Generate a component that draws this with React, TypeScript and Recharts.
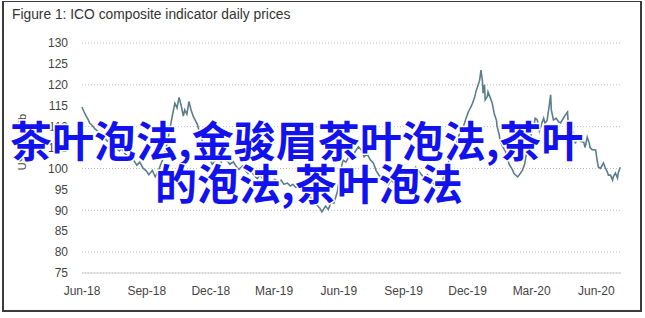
import { LineChart, Line, XAxis, YAxis, CartesianGrid } from "recharts"

// days since 1 Jun 2018
const days = [
  0, 3, 6, 9, 11, 14, 18, 23, 27, 31, 36, 40, 44, 48, 53, 57, 61, 65, 70, 74,
  78, 82, 87, 91, 95, 100, 104, 108, 112, 117, 121, 125, 128, 132, 135, 138, 141, 144, 146, 149,
  152, 155, 158, 161, 164, 168, 172, 176, 181, 185, 189, 193, 198, 202, 206, 210, 215, 219, 223, 228,
  232, 236, 240, 245, 249, 253, 257, 262, 266, 270, 274, 279, 283, 287, 292, 296, 300, 304, 309, 313,
  317, 321, 326, 330, 334, 338, 341, 346, 350, 354, 358, 363, 367, 371, 375, 380, 384, 388, 393, 397,
  401, 405, 410, 414, 418, 422, 427, 431, 435, 439, 444, 448, 452, 457, 461, 465, 469, 474, 478, 482,
  486, 491, 495, 499, 503, 508, 512, 516, 521, 525, 529, 533, 538, 542, 545, 549, 552, 555, 558, 560,
  562, 565, 567, 569, 570, 572, 573, 576, 577, 580, 583, 586, 589, 590, 593, 594, 597, 602, 604, 607,
  612, 614, 619, 621, 626, 629, 631, 634, 637, 640, 643, 644, 647, 650, 653, 656, 658, 661, 664, 666,
  667, 670, 674, 677, 680, 684, 687, 690, 691, 694, 697, 700, 701, 704, 708, 713, 715, 718, 721, 722,
  725, 730, 732, 734, 737, 741, 744, 747, 748, 751, 754, 755, 758, 761, 762, 765,
]

// US cents/lb
const prices = [
  114.7, 113.5, 112.5, 111.6, 110.8, 110.4, 109.5, 108.8, 108, 107.5, 106.5, 107, 105.5, 105, 104.2, 104.8, 103.5, 103, 102.5, 101.8,
  100.8, 101.5, 100, 99.5, 98.5, 99.5, 98, 99.2, 101, 103, 106, 109.5, 112.3, 115.6, 114.5, 117, 115, 112.5, 114, 113,
  116, 114, 112.5, 111.5, 110.5, 108, 106, 104.5, 102.5, 101, 101.8, 102.5, 101.5, 102.8, 102, 101, 101.6, 100.5, 99.8, 100.6,
  99.5, 98.8, 99.5, 98.2, 97.6, 98.4, 97.5, 98.2, 97.2, 96.7, 97.4, 96.8, 97.2, 96.2, 96.5, 95.8, 96.2, 95.5, 95.8, 94.5,
  93.8, 94.2, 92.8, 92, 91.2, 90.5, 89.6, 91, 90.2, 92, 91.7, 94.5, 99, 102, 101.5, 103, 102, 104, 105.2, 104.4,
  102.8, 103.5, 102, 101.3, 99.5, 98.4, 97.5, 96.5, 96, 97.2, 96.5, 97.5, 98, 97.5, 98.6, 99.2, 98.5, 100.3, 99.5, 98.6,
  97.8, 98.5, 97, 96.5, 95.8, 95.5, 97, 99, 101.5, 103.5, 104.4, 106.5, 109, 110, 111.6, 113.5, 114.5, 115.6, 117, 118.5,
  119.5, 121, 123.5, 121, 118, 120, 116.4, 117.2, 118.3, 117, 115.6, 113, 111.5, 110, 108, 106.8, 105.5, 104, 102.5, 101,
  99.6, 98.8, 98, 98.4, 99.6, 101, 103, 104.5, 106.8, 109.5, 111, 112, 111.6, 109, 110.5, 112, 110.8, 111.5, 115, 117.6,
  114, 111.6, 112, 111.2, 110.9, 112, 112.8, 113.5, 111, 110, 109, 108, 106, 107.3, 106.5, 106.3, 105, 107.5, 106, 105,
  104.5, 104.4, 102, 100.3, 100, 101.3, 100, 99, 98.4, 98.4, 97.2, 98, 98.9, 97.7, 98.9, 100.3,
]

const tickDays = [0, 92, 183, 273, 365, 457, 548, 639, 731]
const tickLabels = ["Jun-18", "Sep-18", "Dec-18", "Mar-19", "Jun-19", "Sep-19", "Dec-19", "Mar-20", "Jun-20"]
const yTicks = [75, 80, 85, 90, 95, 100, 105, 110, 115, 120, 125, 130]

const title = "Figure 1: ICO composite indicator daily prices"
const overlayLines = ["茶叶泡法,金骏眉茶叶泡法,茶叶", "的泡法,茶叶泡法"]

const data = days.map((d, i) => ({ day: d, price: prices[i] }))

const font = "'Liberation Sans', Arial, sans-serif"

export default function App() {
  return (
    <div style={{ position: "relative", width: 645, height: 318, background: "#fff" }}>
      <style>{`body{margin:0}`}</style>
      <div
        style={{
          position: "absolute",
          left: 2,
          top: 1,
          width: 636,
          height: 308,
          border: "2px solid #3c3c3c",
          borderTopWidth: 1,
          background: "#fff",
        }}
      />
      <div
        style={{
          position: "absolute",
          left: 12,
          top: 7,
          fontFamily: font,
          fontSize: 13.8,
          color: "#333",
        }}
      >
        {title}
      </div>
      <div style={{ position: "absolute", left: 0, top: 0 }}>
        <LineChart width={645} height={318} data={data} margin={{ top: 43, right: 24, bottom: 0, left: 22 }}>
          <CartesianGrid vertical={false} stroke="#bdbdbd" strokeDasharray="1 2" />
          <XAxis
            dataKey="day"
            type="number"
            domain={[0, 766]}
            ticks={tickDays}
            tickFormatter={(v: number) => tickLabels[tickDays.indexOf(v)]}
            height={45}
            tickLine={false}
            tickSize={0}
            tickMargin={13}
            stroke="#cfcfcf"
            tick={{ fill: "#444", fontSize: 12, fontFamily: font }}
          />
          <YAxis
            domain={[75, 130]}
            ticks={yTicks}
            width={60}
            axisLine={false}
            tickLine={false}
            tickSize={0}
            tickMargin={14}
            tick={{ fill: "#444", fontSize: 12, fontFamily: font }}
            label={{
              content: () => (
                <text
                  x={26}
                  y={142}
                  transform="rotate(-90 26 142)"
                  textAnchor="middle"
                  fontSize={11}
                  fontFamily={font}
                  fill="#444"
                >
                  US cents/lb
                </text>
              ),
            }}
          />
          <Line
            type="linear"
            dataKey="price"
            stroke="#5a7e8c"
            strokeWidth={1.6}
            dot={false}
            isAnimationActive={false}
          />
        </LineChart>
      </div>
      <svg width={645} height={318} style={{ position: "absolute", left: 0, top: 0, pointerEvents: "none" }}>
        <g
          fontFamily="'Noto Sans CJK SC', sans-serif"
          fontSize={42}
          fontWeight={700}
          fill="#1212ee"
          stroke="#fff"
          strokeWidth={3}
          paintOrder="stroke"
        >
          <text x={10} y={157}>
            {overlayLines[0]}
          </text>
          <text x={155} y={200}>
            {overlayLines[1]}
          </text>
        </g>
      </svg>
    </div>
  )
}
